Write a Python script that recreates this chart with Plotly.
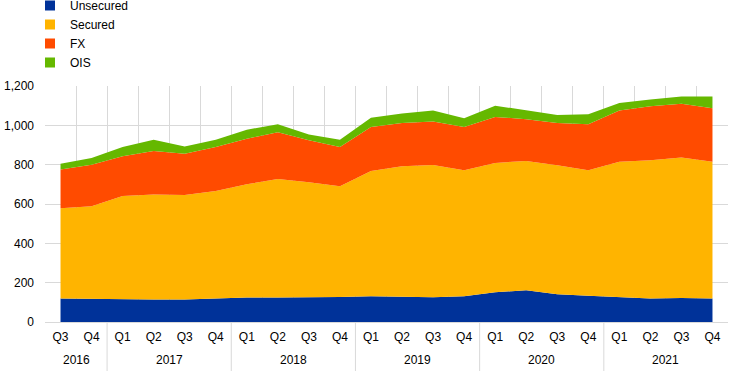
import plotly.graph_objects as go

years = ["2016"] * 2 + ["2017"] * 4 + ["2018"] * 4 + ["2019"] * 4 + ["2020"] * 4 + ["2021"] * 4
quarters = ["Q3", "Q4"] + ["Q1", "Q2", "Q3", "Q4"] * 5
year_labels = ["2016", "2017", "2018", "2019", "2020", "2021"]

unsecured = [120, 117, 115, 114, 115, 119, 124, 124, 124, 127, 131, 127, 126, 131, 151, 161, 141, 134, 127, 120, 122, 120]
secured = [458, 471, 526, 534, 531, 547, 576, 603, 586, 563, 637, 665, 672, 640, 658, 658, 656, 637, 688, 702, 715, 695]
fx = [197, 212, 202, 222, 210, 224, 232, 238, 214, 200, 224, 220, 221, 221, 234, 212, 215, 234, 261, 275, 273, 272]
ois = [30, 34, 47, 57, 37, 37, 46, 40, 30, 37, 47, 48, 57, 44, 57, 45, 41, 51, 38, 34, 36, 59]

names = ["Unsecured", "Secured", "FX", "OIS"]
series = [unsecured, secured, fx, ois]
colors = ["#003299", "#FFB400", "#FF4B00", "#65B800"]

cats = [f"{y} {q}" for y, q in zip(years, quarters)]

fig = go.Figure()
for name, vals, col in zip(names, series, colors):
    fig.add_trace(go.Scatter(
        x=cats, y=vals, name=name, mode="lines",
        stackgroup="one", line=dict(width=0, color=col), fillcolor=col,
        showlegend=False, hoverinfo="skip"))
for name, col in zip(names, colors):
    fig.add_trace(go.Scatter(
        x=[None], y=[None], name=name, mode="markers",
        marker=dict(symbol="square", size=10, color=col), showlegend=True))

# year group labels and dividers
n = len(cats)
for yl in year_labels:
    idx = [i for i, y in enumerate(years) if y == yl]
    mid = (idx[0] + idx[-1]) / 2
    fig.add_annotation(x=mid, y=0, xref="x", yref="paper", yshift=-38,
                       text=yl, showarrow=False, yanchor="middle",
                       font=dict(size=12, color="#000000"))
    b = idx[-1] + 0.5
    if b < n - 0.5:
        fig.add_shape(type="line", x0=b, x1=b, xref="x", y0=0, y1=-49 / 236,
                      yref="paper", line=dict(color="#d9d9d9", width=1))

fig.update_layout(
    width=744, height=371,
    margin=dict(l=45, r=16, t=86, b=49, autoexpand=False),
    paper_bgcolor="white", plot_bgcolor="white",
    font=dict(family="Arial, Liberation Sans, sans-serif", size=12, color="#000000"),
    showlegend=True,
    legend=dict(
        x=-15 / 683, xanchor="left",
        y=1 + 95 / 236, yanchor="top",
        traceorder="normal", tracegroupgap=0,
        font=dict(size=12), bgcolor="rgba(0,0,0,0)",
        itemwidth=30,
    ),
)
fig.update_xaxes(
    type="category", tickson="boundaries",
    tickvals=cats, ticktext=quarters,
    range=[-0.5, n - 0.5],
    showgrid=True, gridcolor="#d9d9d9", gridwidth=1,
    showline=True, linecolor="#d9d9d9",
    ticks="", ticklabelstandoff=4,
)
fig.update_yaxes(
    range=[0, 1200], tickvals=[0, 200, 400, 600, 800, 1000, 1200],
    tickformat=",", showgrid=True, gridcolor="#d9d9d9", gridwidth=1,
    zeroline=False, showline=False, ticks="", ticklabelstandoff=10,
)

fig.write_html("out.html", config={"displayModeBar": False},
               post_script="document.body.style.margin='0';document.body.style.padding='0';")
